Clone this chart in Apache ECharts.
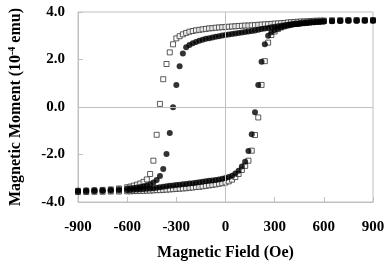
<!DOCTYPE html>
<html>
<head>
<meta charset="utf-8">
<script src="https://cdn.jsdelivr.net/npm/echarts@6/dist/echarts.min.js"></script>
<style>html,body{margin:0;padding:0;background:#fff;}#c{width:391px;height:262px;}</style>
</head>
<body>
<div id="c"></div>
<script>
// Magnetic field values (Oe)
var field = [-900,-850,-800,-750,-700,-650,-600,-580,-560,-540,-520,-500,-480,-460,-440,-420,-400,-380,-360,-340,-320,-300,-280,-260,-240,-220,-200,-180,-160,-140,-120,-100,-80,-60,-40,-20,0,20,40,60,80,100,120,140,160,180,200,220,240,260,280,300,320,340,360,380,400,420,440,460,480,500,520,540,560,580,600,650,700,750,800,850,900];
// Open squares, decreasing-field branch (10^-4 emu)
var sqDown = [-3.53,-3.52,-3.51,-3.49,-3.47,-3.43,-3.38,-3.35,-3.31,-3.27,-3.22,-3.15,-3.05,-2.82,-2.26,-1.17,0.13,1.17,1.81,2.30,2.64,2.89,2.98,3.06,3.12,3.17,3.20,3.23,3.25,3.27,3.29,3.31,3.32,3.34,3.35,3.36,3.37,3.38,3.39,3.40,3.41,3.42,3.43,3.43,3.44,3.45,3.46,3.47,3.48,3.49,3.50,3.51,3.52,3.53,3.54,3.56,3.57,3.58,3.59,3.60,3.60,3.61,3.62,3.63,3.63,3.64,3.64,3.65,3.65,3.65,3.65,3.65,3.65];
// Open squares, increasing-field branch
var sqUp = [-3.58,-3.58,-3.57,-3.57,-3.56,-3.56,-3.55,-3.55,-3.54,-3.54,-3.53,-3.53,-3.52,-3.52,-3.51,-3.50,-3.50,-3.49,-3.48,-3.47,-3.46,-3.45,-3.44,-3.43,-3.42,-3.40,-3.39,-3.37,-3.36,-3.34,-3.32,-3.30,-3.28,-3.26,-3.23,-3.21,-3.18,-3.13,-3.06,-2.95,-2.82,-2.65,-2.48,-2.26,-1.84,-1.18,-0.44,0.93,1.93,2.71,3.03,3.18,3.28,3.35,3.40,3.44,3.47,3.50,3.52,3.54,3.56,3.57,3.58,3.59,3.60,3.61,3.62,3.63,3.64,3.65,3.65,3.65,3.65];
// Filled circles, decreasing-field branch
var ciDown = [-3.53,-3.52,-3.51,-3.50,-3.48,-3.46,-3.43,-3.42,-3.41,-3.39,-3.37,-3.34,-3.30,-3.25,-3.18,-3.07,-2.90,-2.61,-1.98,-1.09,-0.01,0.93,1.72,2.25,2.52,2.61,2.68,2.74,2.79,2.83,2.87,2.90,2.93,2.96,2.98,3.01,3.03,3.05,3.07,3.09,3.12,3.14,3.16,3.18,3.20,3.22,3.25,3.28,3.31,3.33,3.36,3.38,3.40,3.42,3.44,3.46,3.47,3.49,3.50,3.52,3.53,3.54,3.56,3.57,3.58,3.59,3.60,3.62,3.63,3.64,3.64,3.65,3.65];
// Filled circles, increasing-field branch
var ciUp = [-3.57,-3.56,-3.55,-3.54,-3.53,-3.52,-3.50,-3.49,-3.48,-3.47,-3.46,-3.45,-3.44,-3.43,-3.42,-3.40,-3.38,-3.36,-3.34,-3.32,-3.30,-3.28,-3.27,-3.25,-3.24,-3.22,-3.21,-3.19,-3.17,-3.15,-3.13,-3.11,-3.09,-3.07,-3.05,-3.02,-2.99,-2.95,-2.89,-2.80,-2.68,-2.51,-2.30,-1.85,-1.15,-0.22,0.93,1.91,2.64,3.00,3.15,3.24,3.31,3.36,3.40,3.43,3.46,3.48,3.50,3.52,3.54,3.55,3.56,3.57,3.58,3.59,3.60,3.61,3.62,3.63,3.63,3.63,3.63];
var xTicks = [-900,-600,-300,0,300,600,900];
var yTicks = [-4,-2,0,2,4];

function pairs(ys){ return field.map(function(f,i){ return [f, ys[i]]; }); }
var FONT = '"Liberation Serif", "Times New Roman", serif';
var GRAY = '#c0c0c0';
var sqStyle = {color:'#ffffff', borderColor:'#333333', borderWidth:1};
var ciStyle = {color:'#000000'};

var chart = echarts.init(document.getElementById('c'), null, {renderer:'canvas'});
chart.setOption({
  animation:false,
  backgroundColor:'#ffffff',
  grid:{left:78, right:18, top:12, bottom:60, show:true, borderColor:GRAY, borderWidth:1,
        containLabel:false, outerBoundsMode:'none'},
  xAxis:{
    type:'value', min:xTicks[0], max:xTicks[xTicks.length-1], interval:300,
    name:'Magnetic Field (Oe)', nameLocation:'middle', nameGap:43,
    nameTextStyle:{fontFamily:FONT, fontWeight:'bold', fontSize:16, color:'#000'},
    axisLine:{onZero:false, lineStyle:{color:GRAY}},
    axisTick:{inside:true, length:5, lineStyle:{color:GRAY}},
    axisLabel:{fontFamily:FONT, fontWeight:'bold', fontSize:15, color:'#000', margin:18},
    splitLine:{show:false}
  },
  yAxis:{
    type:'value', min:yTicks[0], max:yTicks[yTicks.length-1], interval:2,
    name:'{a|Magnetic Moment (10}{s|-4}{a| emu)}', nameLocation:'middle', nameGap:53, nameRotate:90,
    nameTextStyle:{rich:{
      a:{fontFamily:FONT, fontWeight:'bold', fontSize:16, color:'#000', lineHeight:18},
      s:{fontFamily:FONT, fontWeight:'bold', fontSize:10, color:'#000', verticalAlign:'top', lineHeight:18}
    }},
    axisLine:{onZero:false, lineStyle:{color:GRAY}},
    axisTick:{inside:true, length:5, lineStyle:{color:GRAY}},
    axisLabel:{fontFamily:FONT, fontWeight:'bold', fontSize:15, color:'#000', margin:13,
      formatter:function(v){ return v.toFixed(1); }},
    splitLine:{show:false}
  },
  series:[
    {type:'scatter', data:pairs(sqDown), symbol:'rect', symbolSize:5, itemStyle:sqStyle, z:2,
     markLine:{silent:true, symbol:'none', label:{show:false}, lineStyle:{color:GRAY, width:1, type:'solid'},
       data:[{xAxis:0},{yAxis:0}]}},
    {type:'scatter', data:pairs(sqUp), symbol:'rect', symbolSize:5, itemStyle:sqStyle, z:2},
    {type:'scatter', data:pairs(ciDown), symbol:'circle', symbolSize:6, itemStyle:ciStyle, z:3},
    {type:'scatter', data:pairs(ciUp), symbol:'circle', symbolSize:6, itemStyle:ciStyle, z:3}
  ]
});
</script>
</body>
</html>
